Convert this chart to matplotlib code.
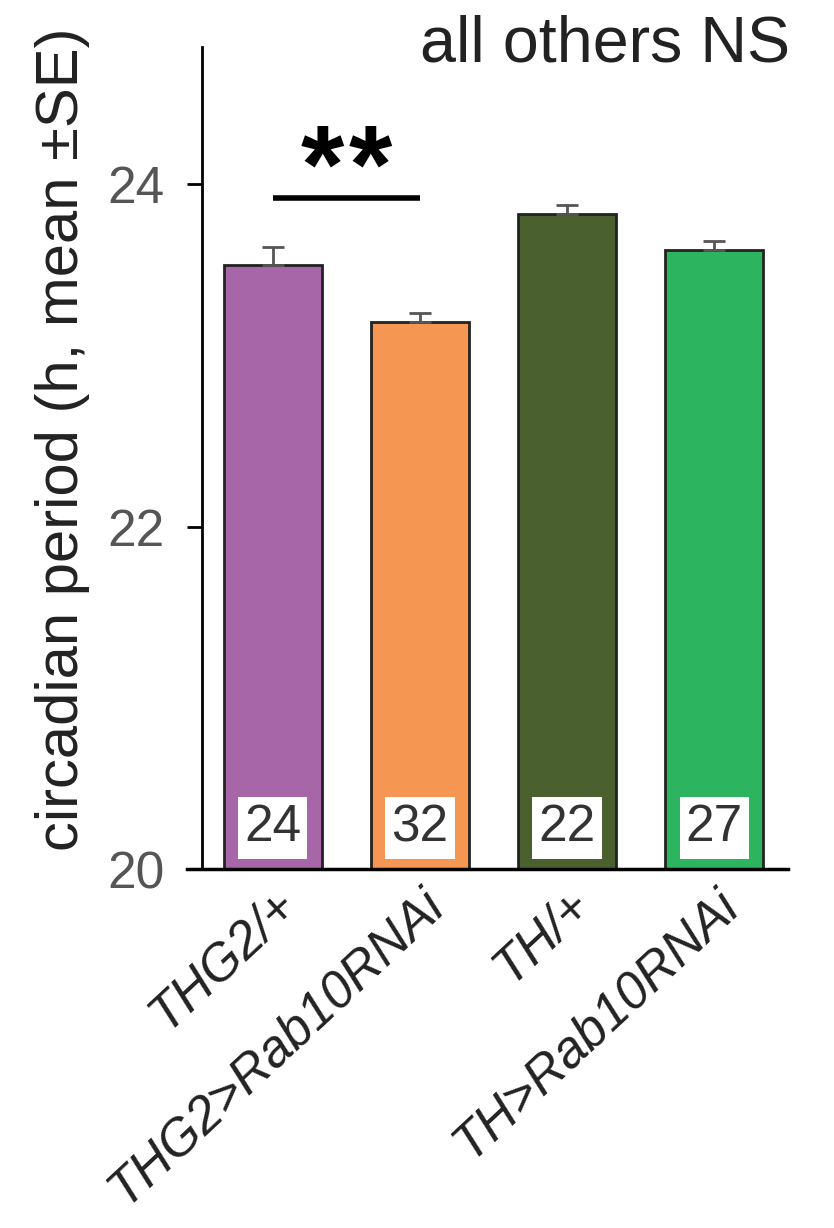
import matplotlib
matplotlib.use("Agg")
import matplotlib.pyplot as plt

plt.rcParams["font.family"] = ["Liberation Sans", "DejaVu Sans"]

genotypes = ["THG2/+", "THG2>Rab10RNAi", "TH/+", "TH>Rab10RNAi"]
period_mean = [23.53, 23.195, 23.825, 23.615]
period_se = [0.10, 0.05, 0.05, 0.05]
n_flies = [24, 32, 22, 27]
bar_colors = ["#A666A8", "#F59752", "#4A602E", "#2DB45F"]
sig_pair = (0, 1)
sig_level = 23.92
sig_stars = 2
y_ticks = [20, 22, 24]

fig = plt.figure(figsize=(8.34, 12.28), dpi=100)
ax = fig.add_axes([0.242, 0.2923, 0.703, 0.6694])

x = list(range(len(genotypes)))
ax.bar(x, [m - 20 for m in period_mean], bottom=20, width=0.665,
       color=bar_colors, edgecolor="#222222", linewidth=2, zorder=2)
ax.errorbar(x, period_mean, yerr=[[0] * len(x), period_se], fmt="none",
            ecolor="#555555", elinewidth=2, capsize=8, capthick=2, zorder=3)

for xi, n in zip(x, n_flies):
    ax.text(xi, 20.24, str(n), ha="center", va="center", fontsize=37,
            color="#333333", zorder=4,
            bbox=dict(boxstyle="square,pad=0.12", fc="white", ec="none"))

# significance bar + stars (drawn one by one so they sit apart)
ax.plot([sig_pair[0], sig_pair[1]], [sig_level, sig_level], color="black",
        linewidth=4, solid_capstyle="butt", zorder=3)
mid = (sig_pair[0] + sig_pair[1]) / 2
for k in range(sig_stars):
    ax.text(mid + (k - (sig_stars - 1) / 2) * 0.33, sig_level - 0.03, "*",
            ha="center", va="baseline", fontsize=80, fontweight="bold")

ax.set_xlim(-0.48, 3.5)
ax.set_ylim(20, 24.8)
ax.set_yticks(y_ticks)
ax.set_yticklabels([str(t) for t in y_ticks], fontsize=37, color="#555555")
ax.tick_params(axis="y", direction="out", length=11, width=2, pad=16)
ax.set_xticks(x)
ax.set_xticklabels(genotypes, rotation=43, ha="right", rotation_mode="anchor",
                   fontsize=37, style="italic", color="#222222")
ax.tick_params(axis="x", length=0, pad=8)

for side in ("top", "right", "bottom"):
    ax.spines[side].set_visible(False)
ax.spines["left"].set_linewidth(2)
ax.plot([-0.026, 1], [0, 0], transform=ax.transAxes, color="black",
        linewidth=2.5, clip_on=False, zorder=5)

ax.set_ylabel("circadian period (h, mean \u00b1SE)", fontsize=43,
              color="#222222")
ax.yaxis.set_label_coords(-0.19, 0.523)

fig.text(0.947, 0.988, "all others NS", ha="right", va="top", fontsize=46.5,
         color="#222222")

fig.savefig("out.png", dpi=100)
